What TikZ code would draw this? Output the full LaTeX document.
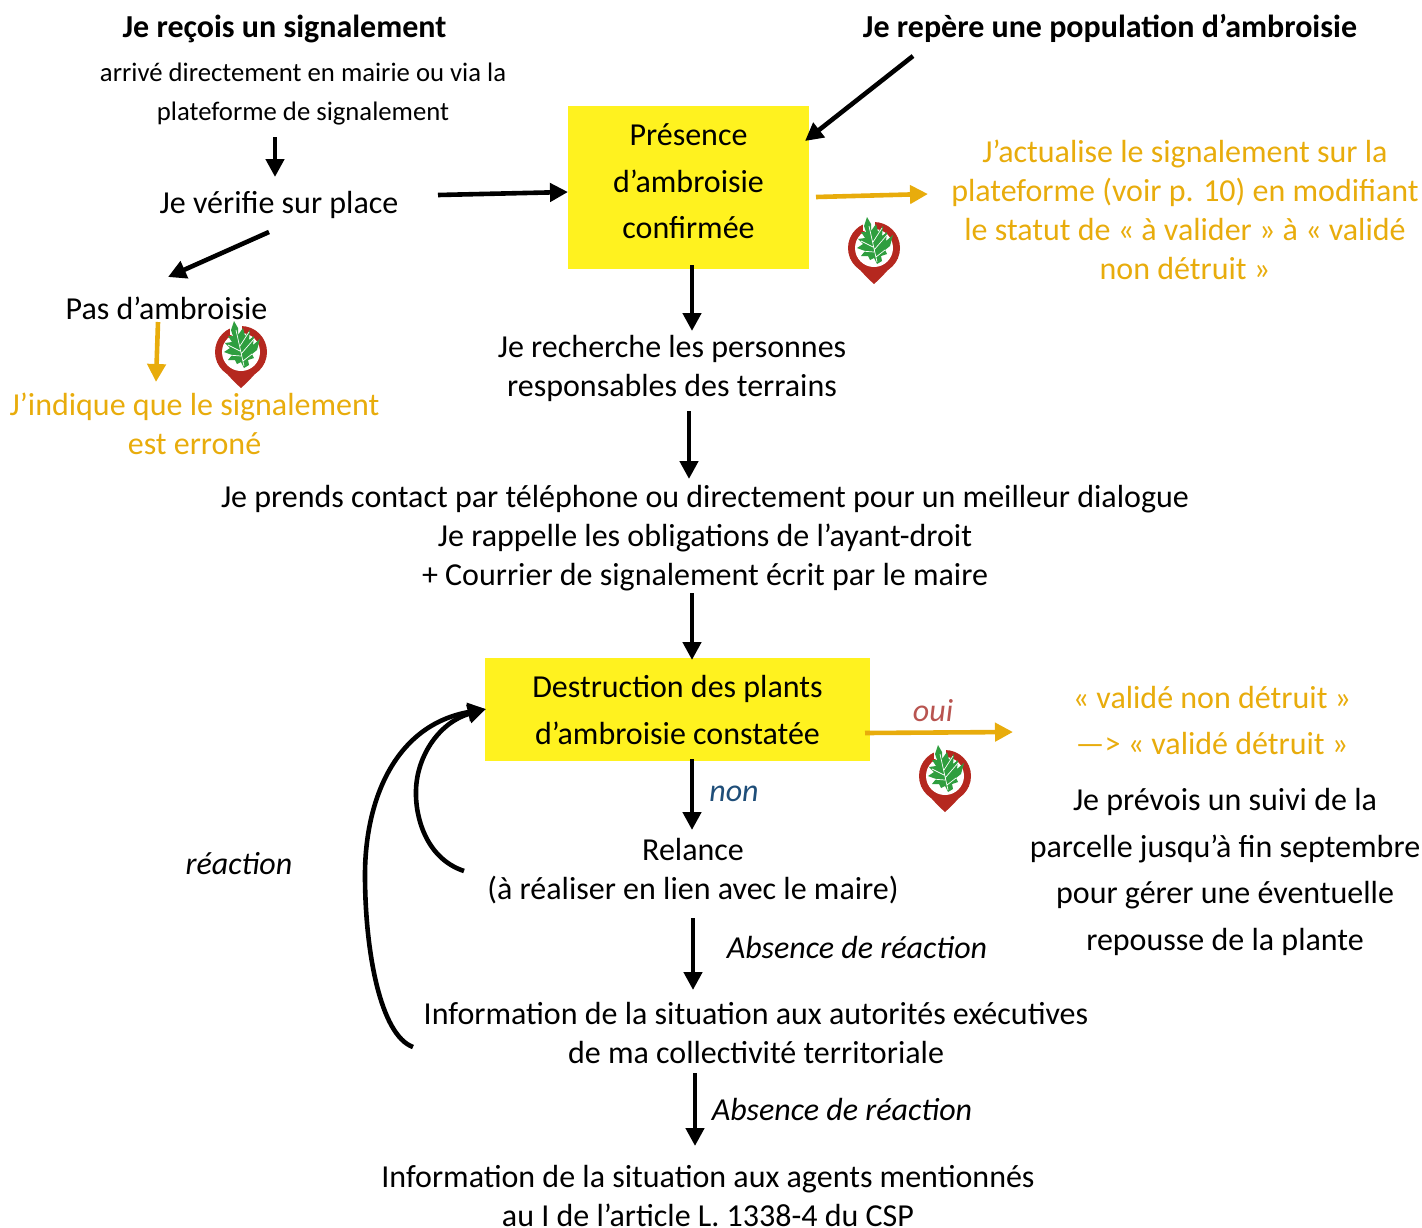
\documentclass[tikz,border=0pt]{standalone}
\usepackage{fontspec}
\setmainfont{Carlito}
\usetikzlibrary{arrows.meta}
\definecolor{boxyellow}{HTML}{FFF21F}
\definecolor{amber}{HTML}{E8AC0C}
\definecolor{ouired}{HTML}{B85450}
\definecolor{nonblue}{HTML}{1F4E79}
\definecolor{pinred}{HTML}{B5281F}
\definecolor{leafgreen}{HTML}{2F9E3F}
\tikzset{
  x=1pt,y=-1pt,
  txt/.style={font=\fontsize{32}{39}\selectfont,align=center,inner sep=0pt,text=black},
  small/.style={txt,font=\fontsize{26.7}{39}\selectfont},
  wide/.style={txt,font=\fontsize{32}{46.5}\selectfont},
  head/.style={txt,font=\bfseries\fontsize{32}{39}\selectfont},
  amb/.style={txt,text=amber},
  ambwide/.style={wide,text=amber},
  ital/.style={txt,font=\itshape\fontsize{32}{39}\selectfont},
  yellowbox/.style={fill=boxyellow,draw=none,inner sep=0pt},
  arr/.style={draw=black,line width=4.6pt,-{Triangle[length=18pt,width=18pt]}},
  amarr/.style={arr,draw=amber,fill=amber},
  pics/pin/.style={code={
    \fill[pinred] (-26,0) arc[start angle=180,end angle=360,radius=26] arc[start angle=0,end angle=180,radius=26] -- cycle;
    \fill[pinred] (-24,10) .. controls (-16,20) and (-8,29) .. (0,36) .. controls (8,29) and (16,20) .. (24,10) -- cycle;
    \fill[white] (0,0) circle[radius=19];
    \fill[white] (-11,-28) rectangle (1,-17);
    \fill[leafgreen] (-7,-31) -- (-3,-24) -- (-3,-17) -- (2,-24) -- (4,-16) -- (9,-22) -- (8,-12) -- (13,-16) -- (12,-7) -- (19,-13) -- (16,-2) -- (11,2) -- (13,6) -- (7,8) -- (8,13) -- (3,16) -- (0,10) -- (-4,12) -- (-6,8) -- (-13,8) -- (-9,3) -- (-17,0) -- (-11,-4) -- (-16,-9) -- (-9,-10) -- (-13,-16) -- (-8,-16) -- (-10,-22) -- cycle;
    \draw[white,line width=.7pt] (-5,-22) -- (3,14) (-13,-7) -- (-1,-1) (-13,3) -- (0,4) (13,-13) -- (0,2) (11,2) -- (2,9) (8,-20) -- (-1,-6);
  }}
}
\begin{document}
\begin{tikzpicture}
\useasboundingbox (0,0) rectangle (1422,1227);
% boxes
\node[yellowbox,minimum width=241pt,minimum height=163pt] (presence) at (688.5,187.5) {};
\node[wide] (presencetxt) at (688.5,181.5) {Présence\\d’ambroisie\\confirmée};
\node[yellowbox,minimum width=385pt,minimum height=103pt] (destruction) at (677.5,709.5) {};
\node[wide] (destructiontxt) at (677.5,710) {Destruction des plants\\d’ambroisie constatée};
% texts
\node[head] (recois) at (284.5,29) {Je reçois un signalement};
\node[head] (repere) at (1110,28) {Je repère une population d’ambroisie};
\node[small] (arrive) at (303,94) {arrivé directement en mairie ou via la\\plateforme de signalement};
\node[txt] (verifie) at (279,205) {Je vérifie sur place};
\node[txt] (pas) at (166.5,308) {Pas d’ambroisie};
\node[amb] (erron) at (194.5,424) {J’indique que le signalement\\est erroné};
\node[amb] (actu) at (1185,210) {J’actualise le signalement sur la\\plateforme (voir p. 10) en modifiant\\le statut de « à valider » à « validé\\non détruit »};
\node[txt] (recherche) at (672,368) {Je recherche les personnes\\responsables des terrains};
\node[txt] (contact) at (705,538) {Je prends contact par téléphone ou directement pour un meilleur dialogue\\Je rappelle les obligations de l’ayant-droit\\+ Courrier de signalement écrit par le maire};
\node[ital,text=ouired] (oui) at (933,711) {oui};
\node[ital,text=nonblue] (non) at (734,794) {non};
\node[ambwide] (valide) at (1212,720.5) {« validé non détruit »\\—> « validé détruit »};
\node[wide] (suivi) at (1225,872) {Je prévois un suivi de la\\parcelle jusqu’à fin septembre\\pour gérer une éventuelle\\repousse de la plante};
\node[txt] (relance) at (693,871) {Relance\\(à réaliser en lien avec le maire)};
\node[ital] (reaction) at (239,864) {réaction};
\node[ital] (abs1) at (857,947) {Absence de réaction};
\node[txt] (autorites) at (756,1033) {Information de la situation aux autorités exécutives\\de ma collectivité territoriale};
\node[ital] (abs2) at (842,1109) {Absence de réaction};
\node[txt] (agents) at (708,1196) {Information de la situation aux agents mentionnés\\au I de l’article L. 1338-4 du CSP};
% connector ends
\coordinate (a1s) at (275,137); \coordinate (a1e) at (275,177);
\coordinate (a2s) at (913,56); \coordinate (a2e) at (805,141);
\coordinate (a3s) at (438,195); \coordinate (a3e) at (568,192);
\coordinate (a4s) at (269,232); \coordinate (a4e) at (168,277);
\coordinate (a5s) at (158,322); \coordinate (a5e) at (156,382);
\coordinate (a6s) at (816,197); \coordinate (a6e) at (928,194);
\coordinate (a7s) at (692,265); \coordinate (a7e) at (692,331);
\coordinate (a8s) at (689,411); \coordinate (a8e) at (689,479);
\coordinate (a9s) at (692,593); \coordinate (a9e) at (692,660);
\coordinate (a10s) at (865,733); \coordinate (a10e) at (1013,732);
\coordinate (a11s) at (692,759); \coordinate (a11e) at (692,830);
\coordinate (a12s) at (693,918); \coordinate (a12e) at (693,990);
\coordinate (a13s) at (695,1073); \coordinate (a13e) at (695,1146);
\coordinate (c1s) at (464,871); \coordinate (c2s) at (413,1047); \coordinate (ce) at (486,709);
% connectors
\draw[arr] (a1s) -- (a1e);
\draw[arr] (a2s) -- (a2e);
\draw[arr] (a3s) -- (a3e);
\draw[arr] (a4s) -- (a4e);
\draw[amarr] (a5s) -- (a5e);
\draw[amarr] (a6s) -- (a6e);
\draw[arr] (a7s) -- (a7e);
\draw[arr] (a8s) -- (a8e);
\draw[arr] (a9s) -- (a9e);
\draw[amarr] (a10s) -- (a10e);
\draw[arr] (a11s) -- (a11e);
\draw[arr] (a12s) -- (a12e);
\draw[arr] (a13s) -- (a13e);
\draw[arr] (c1s) .. controls (425,858) and (415,815) .. (416,790) .. controls (417,755) and (440,722) .. (ce);
\draw[arr] (c2s) .. controls (380,1035) and (365,950) .. (365,875) .. controls (365,800) and (395,725) .. (ce);
% icons
\pic at (874,248) {pin};
\pic at (241,352) {pin};
\pic at (945,776) {pin};
\end{tikzpicture}
\end{document}
